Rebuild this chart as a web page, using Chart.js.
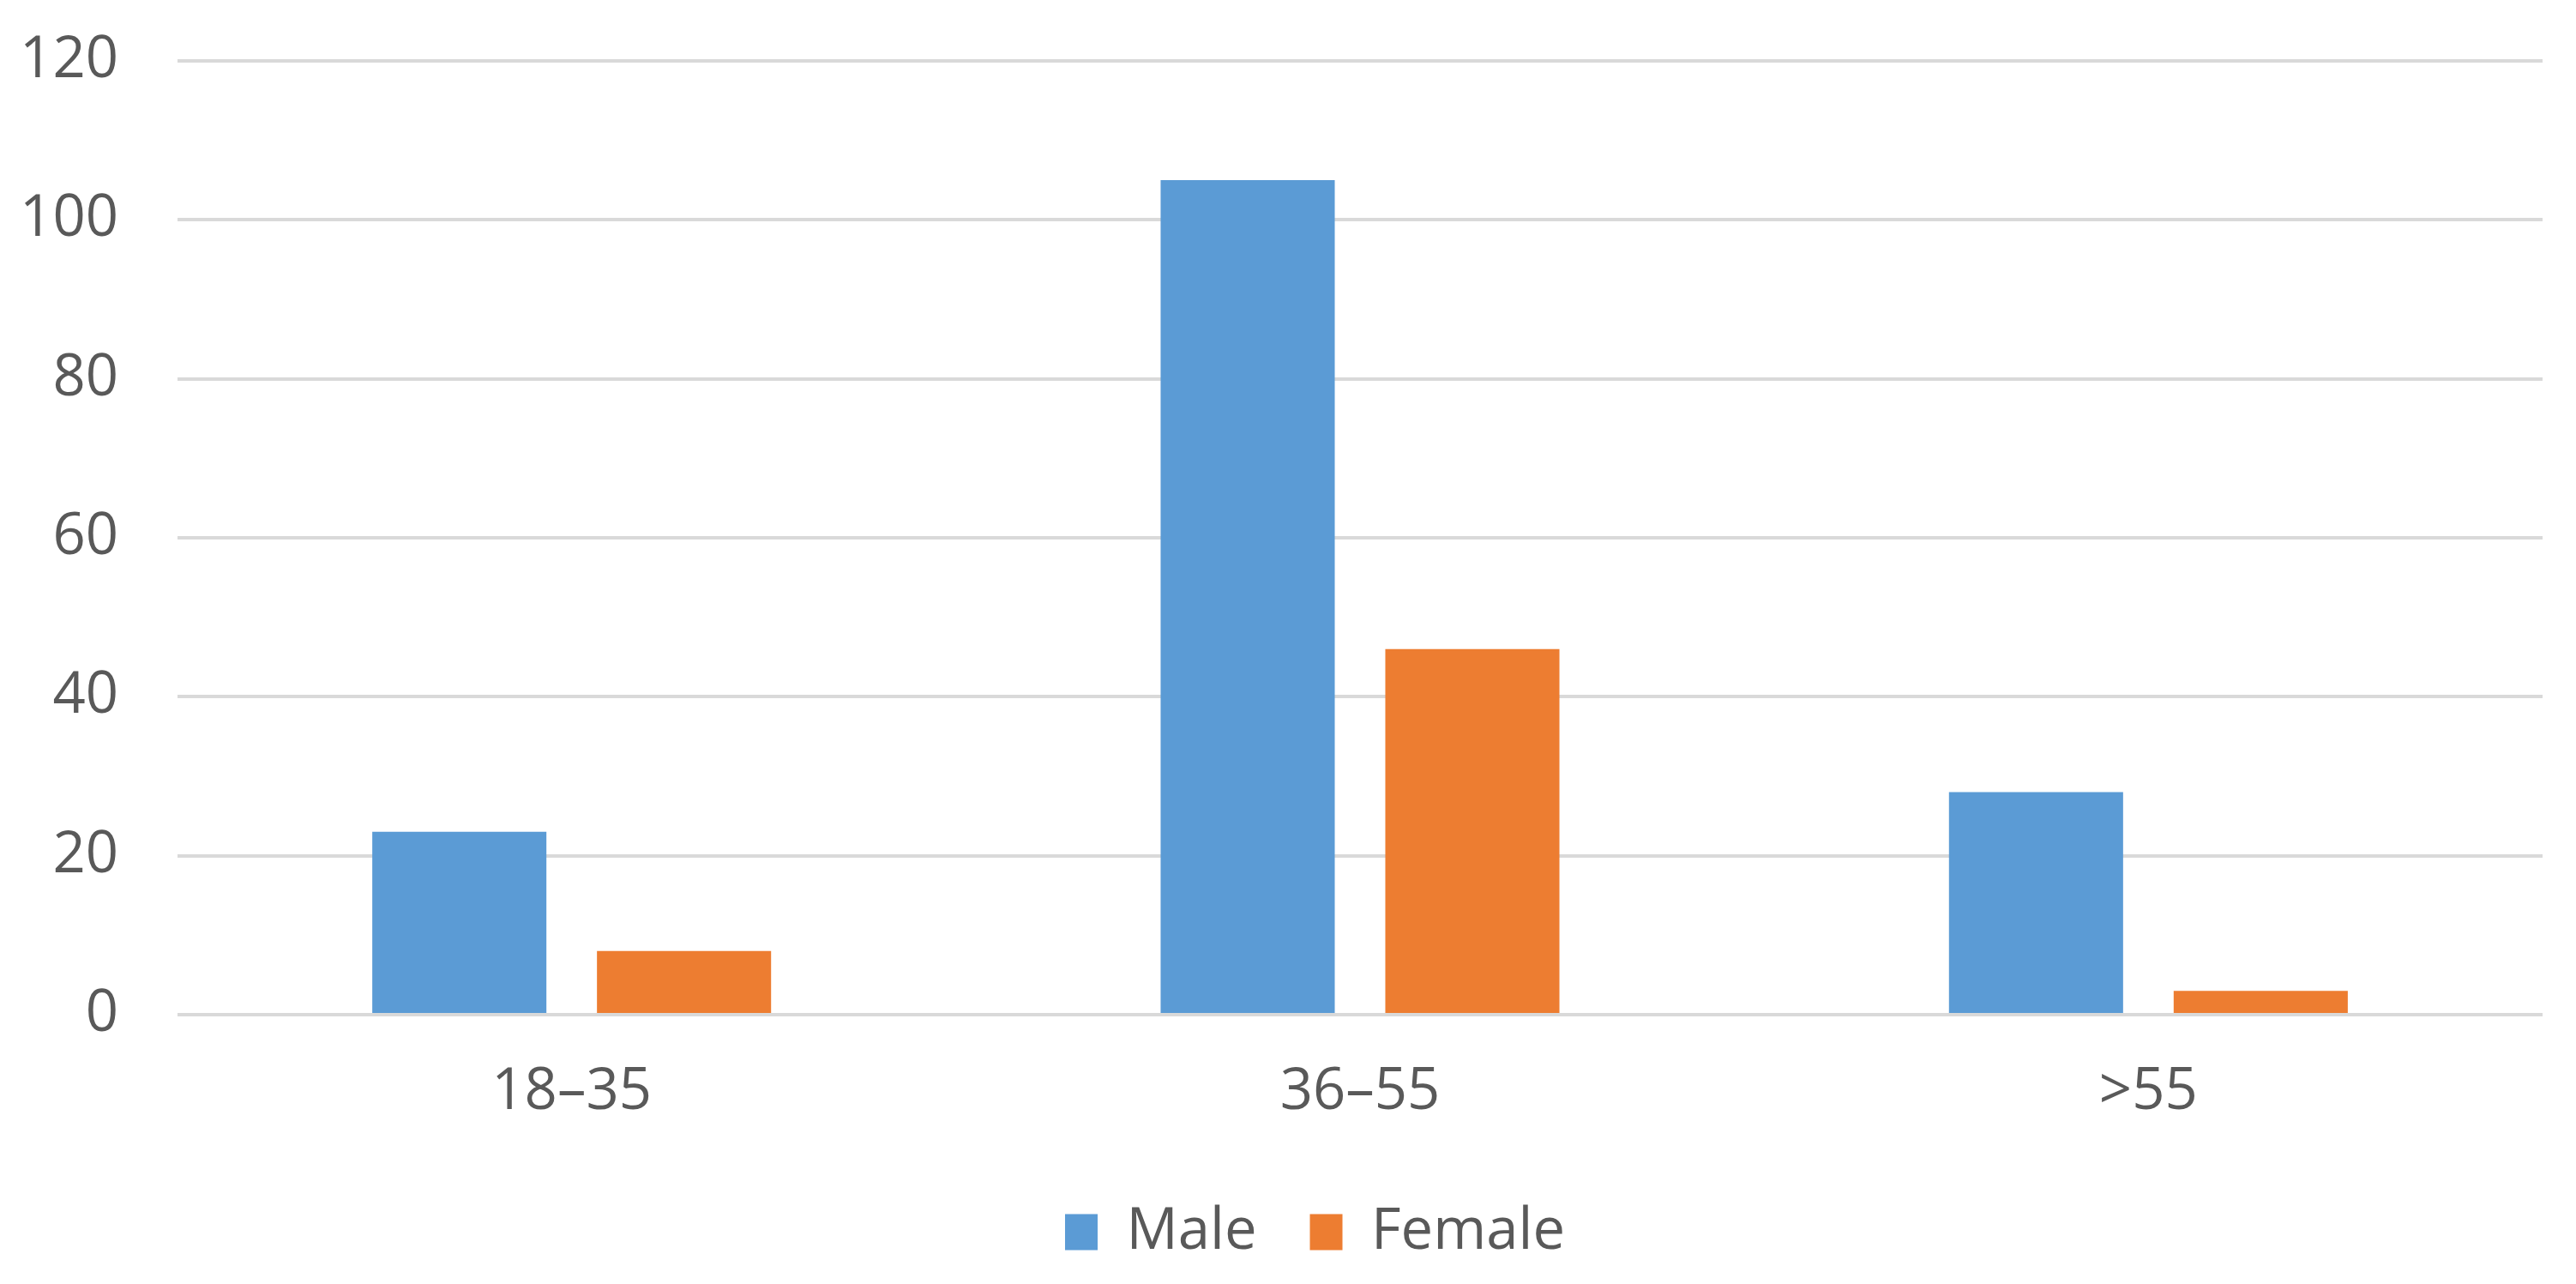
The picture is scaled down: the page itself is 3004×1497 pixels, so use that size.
<!DOCTYPE html>
<html>
<head>
<meta charset="utf-8">
<script src="https://cdn.jsdelivr.net/npm/chart.js@4.4.1/dist/chart.umd.min.js"></script>
<style>
  html, body { margin: 0; padding: 0; background: #fff; }
  #wrap { width: 3004px; height: 1497px; }
</style>
</head>
<body>
<div id="wrap"><canvas id="grafico"></canvas></div>
<script>
const categorias = ['18–35', '36–55', '>55'];
const hombres = [23, 105, 28];
const mujeres = [8, 46, 3];
const ticksY = [0, 20, 40, 60, 80, 100, 120];

const fuente = { family: "'Open Sans', 'Noto Sans', sans-serif", size: 67 };
const gris = '#595959';

// la leyenda del original no queda centrada en el lienzo, sino algo a la derecha
const moverLeyenda = {
    id: 'moverLeyenda',
    afterLayout(chart) {
        chart.legend.left += 51;
        chart.legend.right += 51;
    }
};

const ctx = document.getElementById('grafico').getContext('2d');

window.grafico = new Chart(ctx, {
    type: 'bar',
    data: {
        labels: categorias,
        datasets: [{
            label: 'Male',
            data: hombres,
            backgroundColor: '#5B9BD5',
            categoryPercentage: 0.57,
            barPercentage: 0.775
        }, {
            label: 'Female',
            data: mujeres,
            backgroundColor: '#ED7D31',
            categoryPercentage: 0.57,
            barPercentage: 0.775
        }]
    },
    options: {
        responsive: true,
        maintainAspectRatio: false,
        animation: false,
        layout: {
            padding: { top: 71, right: 39, bottom: 17, left: 0 }
        },
        scales: {
            x: {
                grid: { display: false, drawTicks: false },
                border: { display: false },
                ticks: { color: gris, font: fuente, padding: 51 },
                afterFit: (escala) => { escala.height = 158; }
            },
            y: {
                min: 0,
                max: 120,
                afterBuildTicks: (escala) => {
                    escala.ticks = ticksY.map(v => ({ value: v }));
                },
                grid: { color: '#D9D9D9', lineWidth: 4, drawTicks: false },
                border: { display: false },
                ticks: { color: gris, font: fuente, padding: 69 },
                afterFit: (escala) => {
                    escala.width = 207;
                    // las etiquetas no deben empujar el área del gráfico
                    escala.paddingTop = 0;
                    escala.paddingBottom = 0;
                }
            }
        },
        plugins: {
            legend: {
                position: 'bottom',
                labels: {
                    color: gris,
                    font: fuente,
                    boxWidth: 38,
                    boxHeight: 42,
                    padding: 62
                }
            },
            tooltip: { enabled: false }
        }
    },
    plugins: [moverLeyenda]
});
</script>
</body>
</html>
